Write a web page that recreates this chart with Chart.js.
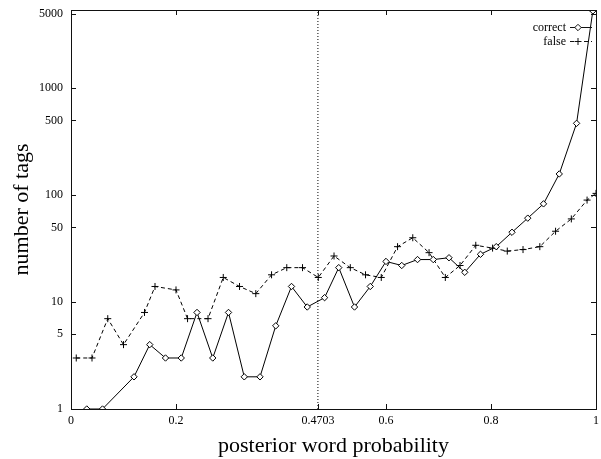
<!DOCTYPE html>
<html>
<head>
<meta charset="utf-8">
<script src="https://cdn.jsdelivr.net/npm/chart.js@4.4.1/dist/chart.umd.min.js"></script>
<style>
  html, body { margin: 0; padding: 0; background: #fff; }
</style>
</head>
<body>
<canvas id="chart" width="601" height="459"></canvas>
<script>
'use strict';

var correctX = [0.03, 0.06, 0.12, 0.15, 0.18, 0.21, 0.24, 0.27, 0.30, 0.33, 0.36, 0.39, 0.42, 0.45, 0.483,
  0.51, 0.54, 0.57, 0.60, 0.63, 0.66, 0.69, 0.72, 0.75, 0.78, 0.81, 0.84, 0.87, 0.90, 0.93, 0.963, 0.994];
var correctY = [1, 1, 2, 4, 3, 3, 8, 3, 8, 2, 2, 6, 14, 9, 11,
  21, 9, 14, 24, 22, 25, 25, 26, 19, 28, 33, 45, 61, 83, 158, 470, 5300];

var falseX = [0.01, 0.04, 0.07, 0.10, 0.14, 0.16, 0.20, 0.222, 0.261, 0.29, 0.321, 0.352, 0.382, 0.411, 0.441, 0.471, 0.501,
  0.532, 0.561, 0.591, 0.622, 0.651, 0.682, 0.713, 0.741, 0.771, 0.803, 0.831, 0.861, 0.893, 0.923, 0.953, 0.983, 1.0];
var falseY = [3, 3, 7, 4, 8, 14, 13, 7, 7, 17, 14, 12, 18, 21, 21, 17, 27,
  21, 18, 17, 33, 40, 29, 17, 22, 34, 32, 30, 31, 33, 46, 60, 90, 104];

var xTicks = [0, 0.2, 0.4703, 0.6, 0.8, 1];
var yTicks = [1, 5, 10, 50, 100, 500, 1000, 5000];
var threshold = 0.4703;
var yMax = 5400;

var serif = "'Liberation Serif', 'DejaVu Serif', serif";

function toPoints(xs, ys) {
  var pts = [];
  for (var i = 0; i < xs.length; i++) {
    pts.push({ x: xs[i], y: ys[i] });
  }
  return pts;
}

// box, inward ticks and gnuplot-style key
var frame = {
  id: 'frame',
  afterDatasetsDraw: function (chart) {
    var ctx = chart.ctx;
    var a = chart.chartArea;
    var xs = chart.scales.x;
    var ys = chart.scales.y;
    var i, p;
    ctx.save();
    ctx.strokeStyle = '#111';
    ctx.lineWidth = 1;
    ctx.strokeRect(Math.round(a.left) + 0.5, Math.round(a.top) + 0.5,
      Math.round(a.right - a.left), Math.round(a.bottom - a.top));

    ctx.beginPath();
    for (i = 0; i < yTicks.length; i++) {
      p = Math.round(ys.getPixelForValue(yTicks[i])) + 0.5;
      ctx.moveTo(a.left, p); ctx.lineTo(a.left + 5, p);
      ctx.moveTo(a.right, p); ctx.lineTo(a.right - 5, p);
    }
    for (i = 1; i < xTicks.length - 1; i++) {
      p = Math.round(xs.getPixelForValue(xTicks[i])) + 0.5;
      ctx.moveTo(p, a.bottom); ctx.lineTo(p, a.bottom - 5);
      ctx.moveTo(p, a.top); ctx.lineTo(p, a.top + 5);
    }
    ctx.stroke();

    // key
    ctx.font = '12px ' + serif;
    ctx.textAlign = 'right';
    ctx.textBaseline = 'middle';
    var keys = [
      { label: 'correct', ds: chart.data.datasets[0] },
      { label: 'false', ds: chart.data.datasets[1] }
    ];
    for (i = 0; i < keys.length; i++) {
      var y = Math.round(a.top + 17 + i * 14) + 0.5;
      var x0 = a.right - 26, x1 = a.right - 4;
      ctx.fillStyle = '#000';
      ctx.fillText(keys[i].label, a.right - 30, y);
      ctx.beginPath();
      ctx.setLineDash(keys[i].ds.borderDash || []);
      ctx.moveTo(x0, y); ctx.lineTo(x1, y);
      ctx.stroke();
      ctx.setLineDash([]);
      ctx.fillStyle = '#fff';
      Chart.helpers.drawPoint(ctx, {
        pointStyle: keys[i].ds.pointStyle,
        radius: keys[i].ds.pointRadius,
        borderWidth: 1
      }, x0 + 8, y);
    }
    ctx.restore();
  }
};

new Chart(document.getElementById('chart').getContext('2d'), {
  type: 'line',
  data: {
    datasets: [
      {
        label: 'correct',
        data: toPoints(correctX, correctY),
        borderColor: '#000',
        borderWidth: 1,
        pointStyle: 'rectRot',
        pointRadius: 3.2,
        pointBackgroundColor: '#fff',
        pointBorderColor: '#000',
        pointBorderWidth: 1,
        tension: 0
      },
      {
        label: 'false',
        data: toPoints(falseX, falseY),
        borderColor: '#000',
        borderWidth: 1,
        borderDash: [4, 3],
        pointStyle: 'cross',
        pointRadius: 3.5,
        pointBorderColor: '#000',
        pointBorderWidth: 1,
        tension: 0
      },
      {
        label: 'threshold',
        data: [{ x: threshold, y: 1 }, { x: threshold, y: yMax }],
        borderColor: '#000',
        borderWidth: 1,
        borderDash: [1, 2],
        pointRadius: 0
      }
    ]
  },
  options: {
    responsive: false,
    animation: false,
    layout: { padding: { top: 10, right: 3, left: 0, bottom: 0 } },
    plugins: {
      legend: { display: false },
      tooltip: { enabled: false }
    },
    scales: {
      x: {
        type: 'linear',
        min: 0,
        max: 1,
        afterBuildTicks: function (scale) {
          scale.ticks = xTicks.map(function (v) { return { value: v }; });
        },
        afterFit: function (scale) {
          scale.height = 50;
          scale.paddingLeft = 0;
          scale.paddingRight = 0;
        },
        grid: { display: false, drawTicks: false },
        border: { display: false },
        ticks: {
          color: '#000',
          padding: 5,
          maxRotation: 0,
          autoSkip: false,
          font: { family: serif, size: 12 },
          callback: function (v) { return String(v); }
        },
        title: {
          display: true,
          text: 'posterior word probability',
          color: '#000',
          padding: { top: 3, bottom: 0 },
          font: { family: serif, size: 22 }
        }
      },
      y: {
        type: 'logarithmic',
        min: 1,
        max: yMax,
        afterBuildTicks: function (scale) {
          scale.ticks = yTicks.map(function (v) { return { value: v }; });
        },
        afterFit: function (scale) {
          scale.width = 71;
          scale.paddingTop = 0;
          scale.paddingBottom = 0;
        },
        grid: { display: false, drawTicks: false },
        border: { display: false },
        ticks: {
          color: '#000',
          padding: 8,
          autoSkip: false,
          font: { family: serif, size: 12 },
          callback: function (v) { return String(v); }
        },
        title: {
          display: true,
          text: 'number of tags',
          color: '#000',
          padding: { top: 9, bottom: 0 },
          font: { family: serif, size: 22 }
        }
      }
    }
  },
  plugins: [frame]
});
</script>
</body>
</html>
